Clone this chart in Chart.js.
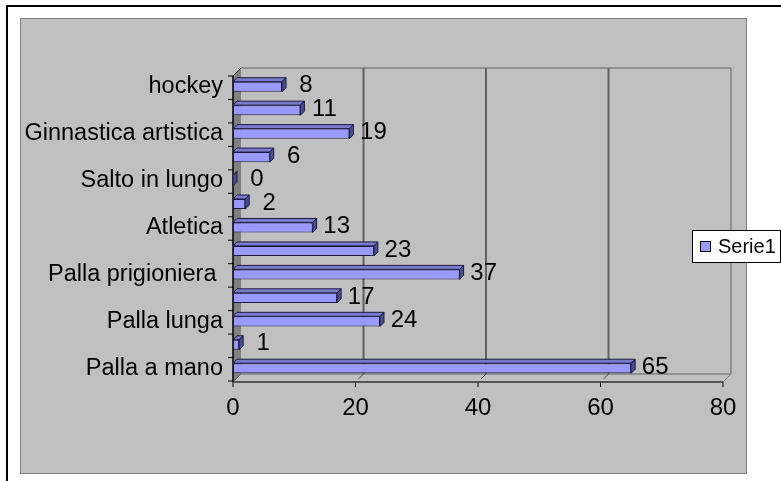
<!DOCTYPE html>
<html>
<head>
<meta charset="utf-8">
<script src="https://cdn.jsdelivr.net/npm/chart.js@4"></script>
<style>
  html, body { margin: 0; padding: 0; background: #fff; }
  canvas { display: block; }
</style>
</head>
<body>
<canvas id="chart" width="781" height="481"></canvas>
<script>
// top to bottom, as in the picture (every other label is hidden there)
const categories = ['hockey', '', 'Ginnastica artistica', '', 'Salto in lungo', '', 'Atletica', '',
  'Palla prigioniera ', '', 'Palla lunga', '', 'Palla a mano'];
const values = [8, 11, 19, 6, 0, 2, 13, 23, 37, 17, 24, 1, 65];
const xTicks = [0, 20, 40, 60, 80];
const seriesName = 'Serie1';

const FONT = '"Liberation Sans", Arial, sans-serif';
const D = 8;   // wall depth
const BD = 4;  // bar depth

function poly(ctx, pts, fill, stroke) {
  ctx.beginPath();
  ctx.moveTo(pts[0][0], pts[0][1]);
  for (let i = 1; i < pts.length; i++) ctx.lineTo(pts[i][0], pts[i][1]);
  ctx.closePath();
  if (fill) { ctx.fillStyle = fill; ctx.fill(); }
  if (stroke) { ctx.strokeStyle = stroke; ctx.stroke(); }
}

function line(ctx, x1, y1, x2, y2, color, w) {
  ctx.beginPath();
  ctx.moveTo(x1, y1);
  ctx.lineTo(x2, y2);
  ctx.strokeStyle = color;
  ctx.lineWidth = w;
  ctx.stroke();
}

const frame3d = {
  id: 'frame3d',
  beforeDraw(chart) {
    const { ctx, chartArea: a, scales: { x } } = chart;
    ctx.save();
    ctx.fillStyle = '#fff';
    ctx.fillRect(0, 0, chart.width, chart.height);
    // outer frame
    ctx.fillStyle = '#000';
    ctx.fillRect(6, 5, chart.width - 6, 2);
    ctx.fillRect(6, 5, 2, chart.height - 5);
    // gray chart area
    ctx.fillStyle = '#c0c0c0';
    ctx.fillRect(20, 18, 726, 455);
    ctx.lineWidth = 1;
    ctx.strokeStyle = '#808080';
    ctx.strokeRect(20.5, 18.5, 726, 455);

    const L = x.getPixelForValue(0);
    const R = x.getPixelForValue(xTicks[xTicks.length - 1]);
    const top = a.top + 1;
    const fy = a.bottom + 2;

    // left wall
    poly(ctx, [[L, top], [L + D, top - D], [L + D, fy - D], [L, fy]], '#808080');
    // back wall outline
    line(ctx, L + D, top - D, R + D, top - D, '#808080', 1.5);
    line(ctx, R + D, top - D, R + D, fy - D, '#808080', 1.5);
    line(ctx, L + D, fy - D, R + D, fy - D, '#808080', 1.5);
    // gridlines on back wall
    xTicks.slice(1, -1).forEach(v => {
      const px = x.getPixelForValue(v) + D;
      line(ctx, px, top - D, px, fy - D, '#606060', 2);
    });
    // floor diagonals + front axis
    xTicks.forEach(v => {
      const px = x.getPixelForValue(v);
      line(ctx, px + 3, fy - 3, px + D, fy - D, v === 80 ? '#808080' : '#404040', 1);
      line(ctx, px, fy, px, fy + 5, '#000', 1);
    });
    line(ctx, L + D, fy - D, L, fy, '#606060', 1);
    line(ctx, L, fy, R, fy, '#303030', 1.5);
    line(ctx, R, fy, R + D, fy - D, '#808080', 1);
    // left axis
    line(ctx, L, top, L, fy, '#000', 1.5);
    line(ctx, L, top, L + D, top - D, '#000', 1);
    const n = categories.length;
    for (let i = 0; i <= n; i++) {
      const yb = a.top + i * (a.bottom - a.top) / n + 1;
      line(ctx, L - 5, yb, L, yb, '#000', 1);
    }
    ctx.restore();
  },
  afterDatasetsDraw(chart) {
    const { ctx, scales: { x } } = chart;
    const meta = chart.getDatasetMeta(0);
    ctx.save();
    ctx.lineWidth = 1;
    meta.data.forEach((bar, i) => {
      const p = bar.getProps(['x', 'y', 'base', 'height'], true);
      const t = p.y - p.height / 2, b = p.y + p.height / 2;
      poly(ctx, [[p.base, t], [p.x, t], [p.x + BD, t - BD], [p.base + BD, t - BD]], '#7a7acc', '#1a1a40');
      poly(ctx, [[p.x, t], [p.x + BD, t - BD], [p.x + BD, b - BD], [p.x, b]], '#4d4d8c', '#1a1a40');
      ctx.fillStyle = '#000';
      ctx.font = '24px ' + FONT;
      ctx.textAlign = 'center';
      ctx.textBaseline = 'middle';
      ctx.fillText(String(values[i]), x.getPixelForValue(values[i]) + 24, p.y - 1);
    });
    ctx.restore();
  },
  afterDraw(chart) {
    const { ctx } = chart;
    ctx.save();
    ctx.fillStyle = '#fff';
    ctx.fillRect(692, 230, 88, 32);
    ctx.strokeStyle = '#000';
    ctx.lineWidth = 1;
    ctx.strokeRect(692.5, 230.5, 88, 32);
    ctx.fillStyle = '#9999ff';
    ctx.fillRect(700.5, 241.5, 10, 10);
    ctx.strokeRect(700.5, 241.5, 10, 10);
    ctx.fillStyle = '#000';
    ctx.font = '20px ' + FONT;
    ctx.textAlign = 'left';
    ctx.textBaseline = 'middle';
    ctx.fillText(seriesName, 718, 247);
    ctx.restore();
  }
};

new Chart(document.getElementById('chart'), {
  type: 'bar',
  data: {
    labels: categories,
    datasets: [{
      label: seriesName,
      data: values,
      backgroundColor: '#9999ff',
      borderColor: '#1a1a40',
      borderWidth: 1,
      borderSkipped: false,
      barPercentage: 0.43,
      categoryPercentage: 1
    }]
  },
  options: {
    indexAxis: 'y',
    responsive: false,
    animation: false,
    layout: { padding: { left: 20, right: 58, top: 75, bottom: 51 } },
    plugins: {
      legend: { display: false },
      tooltip: { enabled: false }
    },
    scales: {
      x: {
        min: 0,
        max: 80,
        afterBuildTicks: s => { s.ticks = xTicks.map(v => ({ value: v })); },
        afterFit: s => { s.height = 50; },
        ticks: { color: '#000', padding: 6, font: { family: FONT, size: 24, lineHeight: 1.2 } },
        grid: { display: false },
        border: { display: false }
      },
      y: {
        afterFit: s => { s.width = 213; },
        ticks: { color: '#000', padding: 2, autoSkip: false, font: { family: FONT, size: 23.5 } },
        grid: { display: false },
        border: { display: false }
      }
    }
  },
  plugins: [frame3d]
});
</script>
</body>
</html>
